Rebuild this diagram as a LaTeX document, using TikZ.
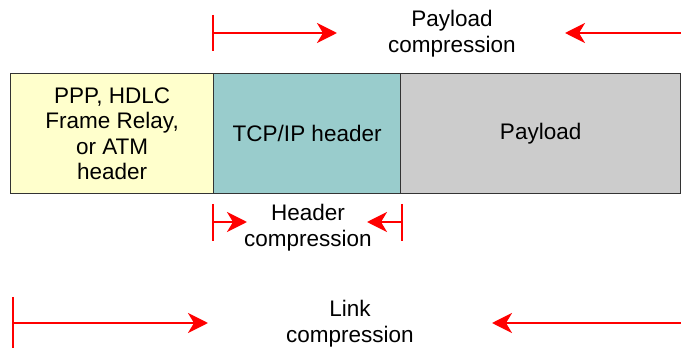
\documentclass[tikz,border=0pt]{standalone}
\usepackage{fontspec}
\setmainfont{Liberation Sans}
\usetikzlibrary{arrows.meta}
\definecolor{hdr}{HTML}{FFFFCC}
\definecolor{tcp}{HTML}{99CCCC}
\definecolor{pay}{HTML}{CCCCCC}
\definecolor{edge}{HTML}{333333}
\definecolor{arr}{HTML}{FF0000}
\tikzset{
  seg/.style={draw=edge, line width=1.3pt, minimum height=120pt, inner sep=0pt, anchor=north west, align=center, font=\fontsize{22.5}{25.5}\selectfont},
  lbl/.style={align=center, font=\fontsize{22.5}{26}\selectfont, inner sep=0pt},
  bar/.style={draw=arr, line width=2.8pt},
  redarrow/.style={draw=arr, line width=2.8pt, -{Stealth[length=20pt,width=20pt,inset=6pt]}}
}
\begin{document}
\begin{tikzpicture}[x=1pt,y=-1pt]
\useasboundingbox (0,0) rectangle (681,350);
% frame segments
\node[seg, fill=hdr, minimum width=203pt] (h) at (10,73) {PPP, HDLC\\Frame Relay,\\or ATM\\header};
\node[seg, fill=tcp, minimum width=187pt] (t) at (213,73) {TCP/IP header};
\node[seg, fill=pay, minimum width=280pt] (p) at (400,73) {Payload};
% payload compression
\coordinate (pa) at (213,15); \coordinate (pb) at (213,51);
\coordinate (ps) at (213,33); \coordinate (pt1) at (337,33);
\coordinate (pe) at (681,33); \coordinate (pt2) at (565,33);
\draw[bar] (pa) -- (pb);
\draw[redarrow] (ps) -- (pt1);
\draw[redarrow] (pe) -- (pt2);
\node[lbl] (plbl) at (452,34) {Payload\\compression};
% header compression
\coordinate (ha) at (213,204); \coordinate (hb) at (213,241);
\coordinate (hc) at (402,204); \coordinate (hd) at (402,241);
\coordinate (hs) at (213,222); \coordinate (ht1) at (247,222);
\coordinate (he) at (402,222); \coordinate (ht2) at (367,222);
\draw[bar] (ha) -- (hb);
\draw[bar] (hc) -- (hd);
\draw[redarrow] (hs) -- (ht1);
\draw[redarrow] (he) -- (ht2);
\node[lbl] (hlbl) at (308,228) {Header\\compression};
% link compression
\coordinate (la) at (13,297); \coordinate (lb) at (13,348);
\coordinate (ls) at (13,323); \coordinate (lt1) at (208,323);
\coordinate (le) at (681,323); \coordinate (lt2) at (492,323);
\draw[bar] (la) -- (lb);
\draw[redarrow] (ls) -- (lt1);
\draw[redarrow] (le) -- (lt2);
\node[lbl] (llbl) at (350,324) {Link\\compression};
\end{tikzpicture}
\end{document}
